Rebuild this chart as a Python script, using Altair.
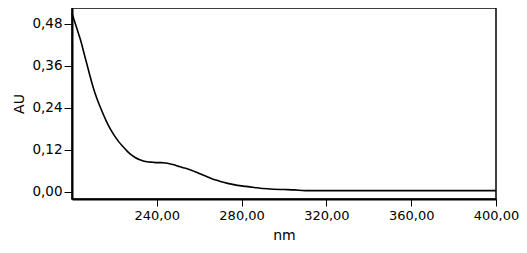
import altair as alt
import pandas as pd

wavelength = [200, 202, 204, 206, 208, 210, 212, 214, 216, 218, 220, 222, 224, 226, 228,
              230, 232, 234, 236, 238, 240, 242, 244, 246, 248, 250, 252, 254, 256, 258,
              260, 262, 264, 266, 268, 270, 274, 278, 282, 286, 290, 295, 300, 305, 310,
              320, 340, 360, 380, 400]
absorbance = [0.510, 0.472, 0.434, 0.388, 0.342, 0.298, 0.262, 0.232, 0.204, 0.180, 0.160,
              0.143, 0.129, 0.116, 0.105, 0.097, 0.091, 0.087, 0.085, 0.084, 0.083, 0.083,
              0.082, 0.080, 0.077, 0.073, 0.069, 0.066, 0.062, 0.057, 0.052, 0.047, 0.042,
              0.037, 0.033, 0.029, 0.023, 0.018, 0.015, 0.012, 0.009, 0.007, 0.006, 0.005,
              0.003, 0.003, 0.003, 0.003, 0.003, 0.003]

x_ticks = [240, 280, 320, 360, 400]
y_ticks = [0.0, 0.12, 0.24, 0.36, 0.48]

df = pd.DataFrame({"nm": wavelength, "AU": absorbance})

font = "DejaVu Sans"
lbl = "replace(format(datum.value, '.2f'), '.', ',')"

chart = alt.Chart(df).mark_line(color="black", strokeWidth=1.6, interpolate="monotone").encode(
    x=alt.X("nm:Q", scale=alt.Scale(domain=[200, 400], nice=False, zero=False),
            axis=alt.Axis(values=x_ticks, labelExpr=lbl, title="nm", grid=False,
                          labelFlush=False, labelOverlap=False,
                          domainColor="black", domainWidth=2, tickColor="black", tickSize=7,
                          tickWidth=1, labelColor="black", labelFont=font, labelFontSize=13,
                          labelPadding=3, titleFont=font, titleFontSize=14,
                          titleFontWeight="normal", titleColor="black", titlePadding=6)),
    y=alt.Y("AU:Q", scale=alt.Scale(domain=[-0.021, 0.525], nice=False, zero=False),
            axis=alt.Axis(values=y_ticks, labelExpr=lbl, title="AU", grid=False,
                          labelFlush=False,
                          domainColor="black", domainWidth=2, tickColor="black", tickSize=8,
                          tickWidth=1, labelColor="black", labelFont=font, labelFontSize=13.5,
                          labelPadding=2, titleFont=font, titleFontSize=14,
                          titleFontWeight="normal", titleColor="black", titlePadding=5)),
).properties(
    width=424, height=191,
    autosize=alt.AutoSizeParams(type="none"),
    padding={"left": 64, "top": 0, "right": 23, "bottom": 46},
).configure_view(stroke="black", strokeWidth=1.5)

chart.save("out.html", embed_options={"renderer": "svg", "actions": False})
